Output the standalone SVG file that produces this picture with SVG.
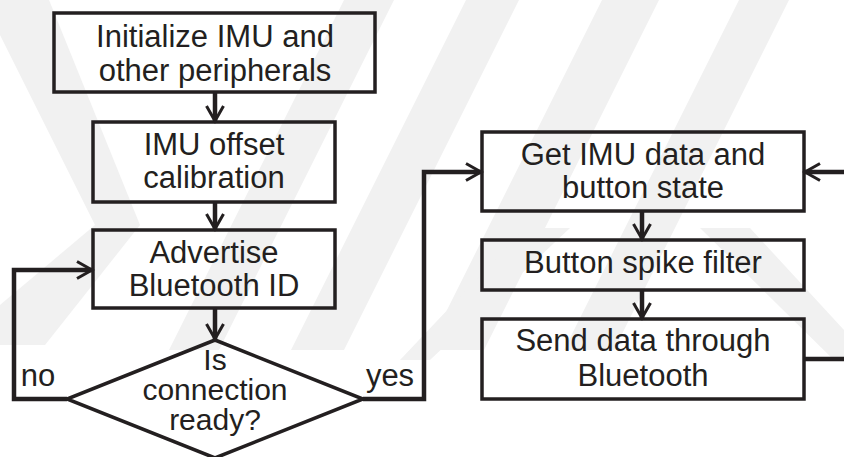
<svg xmlns="http://www.w3.org/2000/svg" width="844" height="457" viewBox="0 0 844 457">
<defs>
<style>
.box{fill:none;stroke:#231f20;stroke-width:3.5}
.t{font-family:"Liberation Sans",Arial,sans-serif;font-size:31px;fill:#231f20;text-anchor:middle}
.d{font-size:30px}
.c{fill:none;stroke:#231f20;stroke-width:4.5;stroke-linejoin:miter}
.wm{fill:#f1f1f1}
</style>
<marker id="ah" markerUnits="userSpaceOnUse" markerWidth="20" markerHeight="22" refX="16" refY="10" orient="auto" viewBox="0 0 20 22">
<path d="M1,1.5 L16,10 L1,18.5" fill="none" stroke="#231f20" stroke-width="3"/>
</marker>
<clipPath id="wclip"><rect x="0" y="0" width="844" height="360"/></clipPath>
</defs>
<rect width="844" height="457" fill="#fff"/>
<g id="watermark" clip-path="url(#wclip)">
<polygon class="wm" points="0,-10 45,-10 140,225 45,345 0,345 0,305 95,225 0,35"/>
<polygon class="wm" points="344,0 394,0 219,350 169,350"/>
<polygon class="wm" points="466,0 519,0 344,350 291,350"/>
<polygon class="wm" points="602,0 659,0 484,350 427,350"/>
<polygon class="wm" points="739,0 789,0 614,350 564,350"/>
<polygon class="wm" points="525,228 570,228 430,360 400,360"/>
<polygon class="wm" points="700,228 750,228 844,330 844,370"/>
</g>
<g id="connectors">
<line class="c" x1="215" y1="92" x2="215" y2="121" marker-end="url(#ah)"/>
<line class="c" x1="215" y1="202" x2="215" y2="229" marker-end="url(#ah)"/>
<line class="c" x1="215" y1="308" x2="215" y2="339" marker-end="url(#ah)"/>
<polyline class="c" points="67,399 14,399 14,270 92,270" marker-end="url(#ah)"/>
<polyline class="c" points="363,399 424,399 424,172 481,172" marker-end="url(#ah)"/>
<line class="c" x1="642" y1="211" x2="642" y2="239" marker-end="url(#ah)"/>
<line class="c" x1="642" y1="290" x2="642" y2="318" marker-end="url(#ah)"/>
<line class="c" x1="804" y1="359" x2="846" y2="359"/>
<line class="c" x1="846" y1="172" x2="805" y2="172" marker-end="url(#ah)"/>
<text class="t" x="38" y="386">no</text>
<text class="t" x="390" y="386">yes</text>
</g>
<g id="n1">
<rect class="box" x="54" y="13" width="321" height="79"/>
<text class="t" x="215" y="47">Initialize IMU and</text>
<text class="t" x="215" y="81">other peripherals</text>
</g>
<g id="n2">
<rect class="box" x="93" y="122" width="242" height="80"/>
<text class="t" x="214" y="155">IMU offset</text>
<text class="t" x="214" y="188">calibration</text>
</g>
<g id="n3">
<rect class="box" x="93" y="230" width="242" height="78"/>
<text class="t" x="214" y="263">Advertise</text>
<text class="t" x="214" y="296">Bluetooth ID</text>
</g>
<g id="n4">
<polygon class="box" points="215,340 363,399 215,458 67,399"/>
<text class="t d" x="215" y="370">Is</text>
<text class="t d" x="215" y="400">connection</text>
<text class="t d" x="215" y="430">ready?</text>
</g>
<g id="n5">
<rect class="box" x="482" y="132" width="322" height="79"/>
<text class="t" x="643" y="165">Get IMU data and</text>
<text class="t" x="643" y="198">button state</text>
</g>
<g id="n6">
<rect class="box" x="482" y="240" width="322" height="50"/>
<text class="t" x="643" y="273">Button spike filter</text>
</g>
<g id="n7">
<rect class="box" x="482" y="319" width="322" height="80"/>
<text class="t" x="643" y="351">Send data through</text>
<text class="t" x="643" y="386">Bluetooth</text>
</g>
</svg>
